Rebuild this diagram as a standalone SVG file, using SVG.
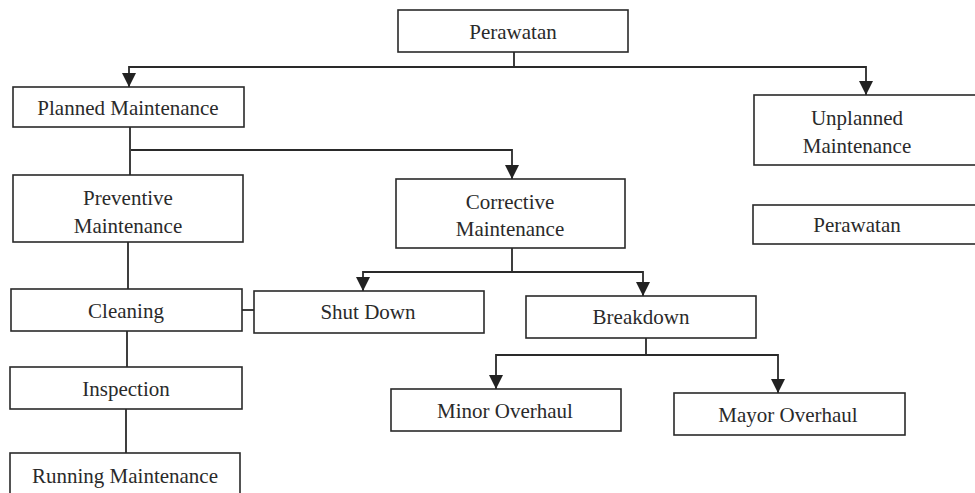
<svg xmlns="http://www.w3.org/2000/svg" width="975" height="493" viewBox="0 0 975 493">
<defs>
<marker id="arr" markerUnits="userSpaceOnUse" markerWidth="16" markerHeight="16" viewBox="0 0 16 16" refX="14" refY="7" orient="auto">
<path d="M0,0 L14,7 L0,14 z" fill="#222"/>
</marker>
<style>
.box{fill:#fff;stroke:#2a2a2a;stroke-width:1.6}
.t{font-family:"Liberation Serif","Times New Roman",serif;font-size:21px;fill:#2a2a2a;text-anchor:middle}
.c{fill:none;stroke:#2a2a2a;stroke-width:1.8}
.a{marker-end:url(#arr)}
</style>
</defs>
<rect width="975" height="493" fill="#fff"/>
<g id="connectors">
<path class="c" d="M514,52 V67"/>
<path class="c a" d="M514,67 H129 V87"/>
<path class="c a" d="M514,67 H866 V95"/>
<path class="c" d="M130,127 V175"/>
<path class="c a" d="M131,150 H512 V179"/>
<path class="c" d="M128,242 V289"/>
<path class="c" d="M127,331 V367"/>
<path class="c" d="M126,409 V453"/>
<path class="c" d="M242,310 H254"/>
<path class="c" d="M512,248 V272"/>
<path class="c a" d="M512,272 H363 V291"/>
<path class="c a" d="M512,272 H643 V296"/>
<path class="c" d="M646,338 V355"/>
<path class="c a" d="M646,355 H496 V389"/>
<path class="c a" d="M646,355 H778 V393"/>
</g>
<g id="perawatan"><rect class="box" x="398" y="10" width="230" height="42"/><text class="t" x="513" y="39">Perawatan</text></g>
<g id="planned"><rect class="box" x="13" y="87" width="231" height="40"/><text class="t" x="128" y="115">Planned Maintenance</text></g>
<g id="unplanned"><rect class="box" x="754" y="95" width="225" height="70"/><text class="t" x="857" y="125">Unplanned</text><text class="t" x="857" y="153">Maintenance</text></g>
<g id="perawatan2"><rect class="box" x="753" y="205" width="226" height="39"/><text class="t" x="857" y="232">Perawatan</text></g>
<g id="preventive"><rect class="box" x="13" y="175" width="230" height="67"/><text class="t" x="128" y="205">Preventive</text><text class="t" x="128" y="233">Maintenance</text></g>
<g id="corrective"><rect class="box" x="396" y="179" width="229" height="69"/><text class="t" x="510" y="209">Corrective</text><text class="t" x="510" y="236">Maintenance</text></g>
<g id="cleaning"><rect class="box" x="11" y="289" width="231" height="42"/><text class="t" x="126" y="318">Cleaning</text></g>
<g id="shutdown"><rect class="box" x="254" y="291" width="230" height="42"/><text class="t" x="368" y="319">Shut Down</text></g>
<g id="breakdown"><rect class="box" x="526" y="296" width="230" height="42"/><text class="t" x="641" y="324">Breakdown</text></g>
<g id="inspection"><rect class="box" x="10" y="367" width="232" height="42"/><text class="t" x="126" y="396">Inspection</text></g>
<g id="running"><rect class="box" x="10" y="453" width="230" height="45"/><text class="t" x="125" y="483">Running Maintenance</text></g>
<g id="minor"><rect class="box" x="391" y="389" width="230" height="42"/><text class="t" x="505" y="418">Minor Overhaul</text></g>
<g id="mayor"><rect class="box" x="674" y="393" width="231" height="42"/><text class="t" x="788" y="422">Mayor Overhaul</text></g>
</svg>
